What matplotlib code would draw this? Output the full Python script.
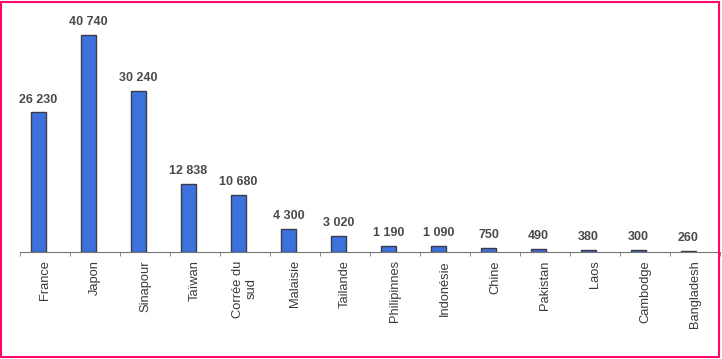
import matplotlib.pyplot as plt
import matplotlib.patches as patches
import numpy as np

plt.rcParams['font.family'] = ['Liberation Sans', 'DejaVu Sans']

pays = ['France', 'Japon', 'Sinapour', 'Taïwan', 'Corrée du\nsud', 'Malaisie',
        'Tailande', 'Philipinnes', 'Indonésie', 'Chine', 'Pakistan', 'Laos',
        'Cambodge', 'Bangladesh']
valeurs = [26230, 40740, 30240, 12838, 10680, 4300, 3020, 1190, 1090, 750,
           490, 380, 300, 260]
etiquettes = ['26 230', '40 740', '30 240', '12 838', '10 680', '4 300', '3 020',
              '1 190', '1 090', '750', '490', '380', '300', '260']

fig = plt.figure(figsize=(7.22, 3.59), dpi=100)
ax = fig.add_axes([20 / 722, 1 - 252 / 359, 700 / 722, 242 / 359])

x = np.arange(len(pays))
# les barres sont un peu decalees a gauche des etiquettes
xb = x - 0.13
ax.bar(xb, valeurs, width=0.31, color='#3d72de', edgecolor='#3a3a4a', linewidth=1)
for xi, v, lab in zip(xb, valeurs, etiquettes):
    ax.annotate(lab, (xi, v), xytext=(0, 5), textcoords='offset points',
                ha='center', va='bottom', fontsize=9, fontweight='bold',
                color='#4a4a4a')

ax.set_xlim(-0.5, len(pays) - 0.5)
ax.set_ylim(0, 45500)
for s in ['top', 'right', 'left']:
    ax.spines[s].set_visible(False)
ax.spines['bottom'].set_color('#777777')
ax.set_yticks([])

ax.set_xticks(x)
ax.set_xticklabels(pays, rotation=90, fontsize=9.3, color='#3a3a3a',
                   va='top', ha='center', multialignment='center')
ax.set_xticks(np.arange(len(pays) + 1) - 0.5, minor=True)
ax.tick_params(axis='x', which='major', length=0, pad=6)
ax.tick_params(axis='x', which='minor', length=3, color='#777777')

fig.patches.append(patches.Rectangle((1 / 722, 2 / 359), 718 / 722, 355 / 359,
                                     transform=fig.transFigure, fill=False,
                                     edgecolor='#ff0a6a', linewidth=1.5))

fig.savefig('out.png', dpi=100)
